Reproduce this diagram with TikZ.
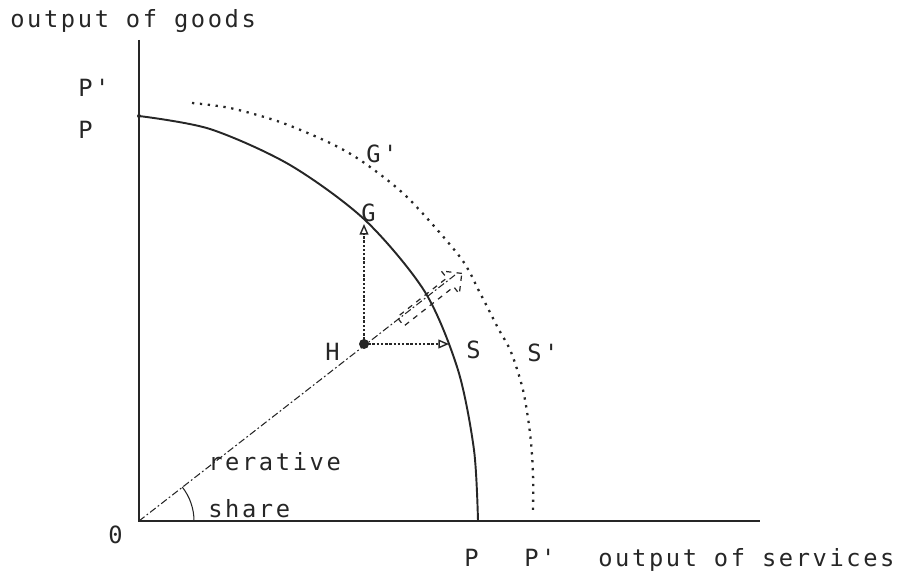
\documentclass[tikz,border=0pt]{standalone}
\usepackage{fontspec}
\setmonofont[LetterSpace=11]{DejaVu Sans Mono}
\usetikzlibrary{arrows.meta,shapes.arrows}

\newcommand\lblfont{\ttfamily\fontsize{13.5}{16}\selectfont}

\begin{document}
\begin{tikzpicture}[
    x=0.02cm, y=-0.02cm,
    >=Latex,
    color=black!85,
    lbl/.style        = {inner sep=0, anchor=base west, font=\lblfont},
    axisline/.style   = {line width=0.8pt},
    pcurve/.style     = {line width=1.1pt},
    shiftcurve/.style = {line width=1.3pt, dash pattern=on 1.3pt off 3.2pt},
    rayline/.style    = {line width=0.6pt, dash pattern=on 4pt off 1.5pt on 1pt off 1.5pt},
    movearrow/.style  = {line width=1.4pt, densely dotted,
                         -{Triangle[open, length=6pt, width=5pt, line width=0.8pt]}},
    bigarrow/.style   = {single arrow, draw, dashed, line width=0.7pt,
                         inner sep=0.1cm, minimum height=1.56cm,
                         single arrow head extend=0.18cm},
]
\useasboundingbox (0,0) rectangle (909,577);

% points
\coordinate (O)      at (139,521);
\coordinate (ytop)   at (139,40);
\coordinate (xend)   at (760,521);
\coordinate (Pg)     at (139,116);
\coordinate (H)      at (364,344);
\coordinate (Gpt)    at (364,224);
\coordinate (Spt)    at (449,344);
\coordinate (rayend) at (455,275);
\coordinate (arcbeg) at (194,521);

% axes
\draw[axisline] (ytop) -- (O) -- (xend);

% frontier P and shifted frontier P'
\draw[pcurve] plot[smooth] coordinates {(139,116) (210,129) (290,165) (365,220)
    (425,292) (458,370) (474,450) (478,521)};
\draw[shiftcurve] plot[smooth] coordinates {(192,103) (230,108) (280,122) (330,143)
    (363,162) (407,197) (460,257) (480,293) (498,328) (511,352) (523,390)
    (530,433) (533,473) (533,512)};
\fill (Pg) circle[radius=2];

% ray through H and the angle
\draw[rayline] (O) -- (rayend);
\draw[line width=0.6pt] (arcbeg) arc[start angle=0, end angle=-38.2, radius=55];
\node[bigarrow, rotate=38.2, anchor=tail] (push) at (400,322) {};

% moves from H
\draw[movearrow] (H) -- (Gpt);
\draw[movearrow] (H) -- (Spt);
\fill (H) circle[radius=5];

% labels
\node[lbl] (yname) at (10,28)   {output of goods};
\node[lbl] (Pgs)   at (78,97)   {P'};
\node[lbl] (Pgl)   at (78,139)  {P};
\node[lbl] (Gs)    at (366,163) {G'};
\node[lbl] (Gl)    at (361,222) {G};
\node[lbl] (Hl)    at (325,360) {H};
\node[lbl] (Sl)    at (466,358) {S};
\node[lbl] (Ss)    at (527,361) {S'};
\node[lbl] (rel)   at (208,470) {rerative};
\node[lbl] (shr)   at (208,517) {share};
\node[lbl] (Ol)    at (108,543) {0};
\node[lbl] (Psl)   at (464,566) {P};
\node[lbl] (Pss)   at (524,566) {P'};
\node[lbl] (xname) at (598,566) {output of services};
\end{tikzpicture}
\end{document}
